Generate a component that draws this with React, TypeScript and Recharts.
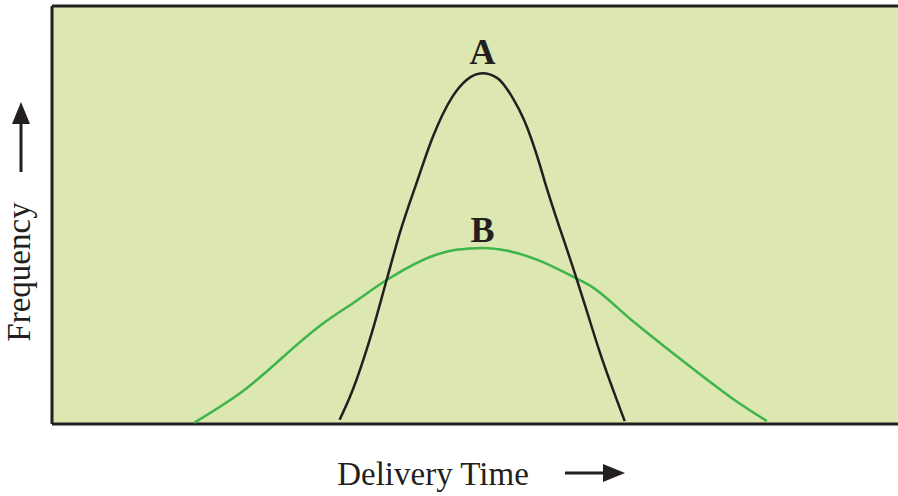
import React from 'react';
import { LineChart, Line, XAxis, YAxis, CartesianGrid, ReferenceDot, ReferenceLine, Label } from 'recharts';

// delivery time (arbitrary units 0-100) vs frequency (0-100)
const timeA = [34.0, 35.4, 37.8, 39.6, 41.1, 43.2, 45.0, 47.3, 49.0, 50.9, 52.6, 54.4, 55.8, 57.6, 58.2, 62.0, 63.2, 64.7, 67.7];
const freqA = [1.0, 7.4, 21.8, 34.8, 45.6, 58.3, 68.6, 78.2, 82.3, 83.9, 82.8, 78.2, 72.7, 62.4, 58.3, 34.8, 27.1, 17.5, 0.7];

const timeB = [16.8, 22.1, 32.0, 36.0, 39.6, 45.4, 47.8, 50.9, 53.7, 57.6, 62.0, 63.6, 68.6, 75.0, 80.5, 84.5];
const freqB = [0.3, 7.2, 24.0, 29.5, 34.5, 40.5, 41.7, 42.1, 41.5, 39.1, 34.8, 33.1, 24.7, 14.4, 6.0, 0.7];

const seriesA = timeA.map((t, i) => ({ t, v: freqA[i] }));
const seriesB = timeB.map((t, i) => ({ t, v: freqB[i] }));

const peakA = seriesA.reduce((m, p) => (p.v > m.v ? p : m));
const peakB = seriesB.reduce((m, p) => (p.v > m.v ? p : m));

const INK = '#231f20';
const SERIF = '"Liberation Serif", "Times New Roman", serif';

const XTitle = ({ viewBox }: any) => {
  const { x, y } = viewBox;
  const ty = y + 61;
  const ay = y + 49;
  return (
    <g>
      <text x={x + 381} y={ty} textAnchor="middle" fontFamily={SERIF} fontSize={33} fill={INK}>
        Delivery Time
      </text>
      <line x1={x + 513} y1={ay} x2={x + 556} y2={ay} stroke={INK} strokeWidth={3} />
      <path d={`M ${x + 573} ${ay} L ${x + 551} ${ay - 9} L ${x + 551} ${ay + 9} Z`} fill={INK} />
    </g>
  );
};

const YTitle = ({ viewBox }: any) => {
  const { y } = viewBox;
  const cx = 30;
  const cy = y + 266;
  return (
    <g>
      <text
        x={cx}
        y={cy}
        transform={`rotate(-90 ${cx} ${cy})`}
        textAnchor="middle"
        fontFamily={SERIF}
        fontSize={33}
        fill={INK}
      >
        Frequency
      </text>
      <line x1={21} y1={y + 166} x2={21} y2={y + 114} stroke={INK} strokeWidth={3} />
      <path d={`M 21 ${y + 96} L 12 ${y + 118} L 30 ${y + 118} Z`} fill={INK} />
    </g>
  );
};

export default function App() {
  return (
    <div style={{ width: 898, height: 496, overflow: 'hidden', background: '#fff' }}>
      <style>{'body{margin:0;overflow:hidden}'}</style>
      <LineChart width={898} height={496} margin={{ top: 6, right: 0, bottom: 72, left: 52 }}>
        <CartesianGrid fill="#dce7b1" fillOpacity={1} stroke="none" horizontal={false} vertical={false} />
        <XAxis type="number" dataKey="t" domain={[0, 100]} hide />
        <YAxis type="number" domain={[0, 100]} hide />
        <ReferenceLine y={100} stroke={INK} strokeWidth={3} />
        <ReferenceLine y={0} stroke={INK} strokeWidth={3}>
          <Label content={<XTitle />} />
        </ReferenceLine>
        <ReferenceLine x={0} stroke={INK} strokeWidth={3}>
          <Label content={<YTitle />} />
        </ReferenceLine>
        <Line
          data={seriesB}
          dataKey="v"
          type="monotone"
          stroke="#3db54a"
          strokeWidth={2.5}
          dot={false}
          isAnimationActive={false}
        />
        <Line
          data={seriesA}
          dataKey="v"
          type="monotone"
          stroke={INK}
          strokeWidth={2.5}
          dot={false}
          isAnimationActive={false}
        />
        <ReferenceDot
          x={peakA.t}
          y={peakA.v}
          r={0}
          stroke="none"
          label={{ value: 'A', position: 'top', offset: 9, fontSize: 36, fontWeight: 'bold', fontFamily: SERIF, fill: INK }}
        />
        <ReferenceDot
          x={peakB.t}
          y={peakB.v}
          r={0}
          stroke="none"
          label={{ value: 'B', position: 'top', offset: 6, fontSize: 36, fontWeight: 'bold', fontFamily: SERIF, fill: INK }}
        />
      </LineChart>
    </div>
  );
}
